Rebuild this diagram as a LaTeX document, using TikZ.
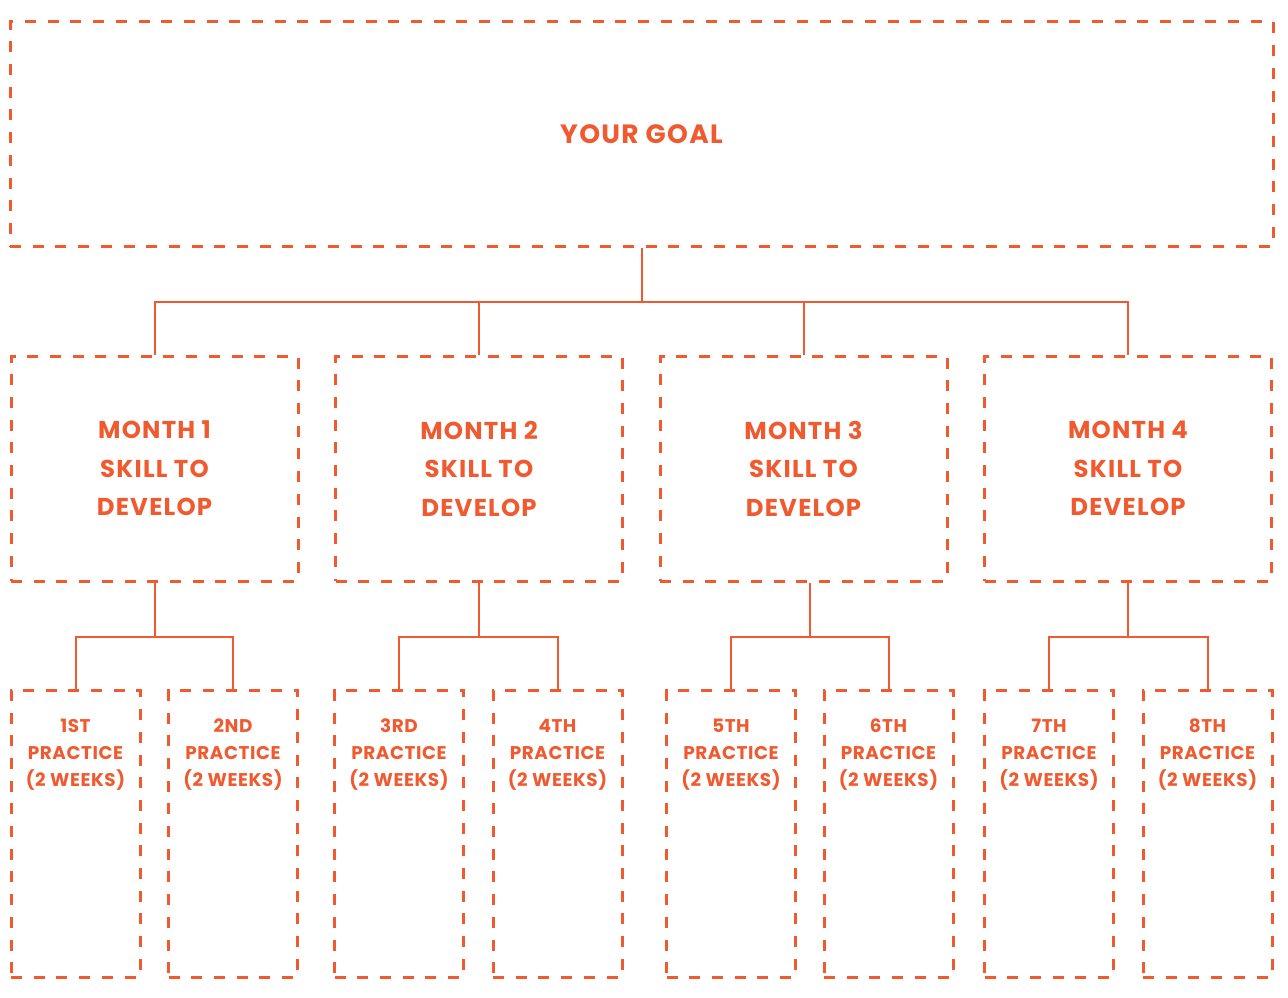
\documentclass[tikz,border=0pt]{standalone}
\usepackage{fontspec}
\newfontfamily\labfont[LetterSpace=5]{Poppins}
\newfontfamily\pracfont[LetterSpace=3]{Poppins}
\definecolor{orng}{HTML}{F05A30}
\tikzset{
  box/.style={draw=orng, line width=3pt, dash pattern=on 11pt off 11.7pt, rectangle, inner sep=0pt, text=orng, align=center},
  goalbox/.style={box, minimum width=1263pt, minimum height=224pt, font={\labfont\bfseries\fontsize{26.5}{30}\selectfont}},
  monthbox/.style={box, minimum width=287pt, minimum height=225pt, font={\labfont\bfseries\fontsize{24.4}{38.5}\selectfont}},
  pracbox/.style={box, minimum width=129pt, minimum height=287pt},
  practxt/.style={text=orng, align=center, inner sep=0pt, font={\pracfont\bfseries\fontsize{18.4}{27}\selectfont}},
  link/.style={draw=orng, line width=2pt},
}
\begin{document}
\begin{tikzpicture}[x=1pt,y=-1pt]
\useasboundingbox (0,0) rectangle (1288,998);
% goal
\node[goalbox] (goal) at (641.5,134) {YOUR GOAL};
% months
\node[monthbox] (m1) at (154.5,468.5) {MONTH 1\\SKILL TO\\DEVELOP};
\node[monthbox] (m2) at (479,468.5) {MONTH 2\\SKILL TO\\DEVELOP};
\node[monthbox] (m3) at (803.5,468.5) {MONTH 3\\SKILL TO\\DEVELOP};
\node[monthbox] (m4) at (1128,468.5) {MONTH 4\\SKILL TO\\DEVELOP};
% practice boxes
\foreach \i/\x in {1/75.5,2/233,3/399,4/557.5,5/731,6/888.5,7/1049,8/1207.5}{
  \node[pracbox] (p\i) at (\x,833.5) {};
}
\node[practxt] (p1t) at (75.5,755) {1ST\\PRACTICE\\(2 WEEKS)};
\node[practxt] (p2t) at (233,755) {2ND\\PRACTICE\\(2 WEEKS)};
\node[practxt] (p3t) at (399,755) {3RD\\PRACTICE\\(2 WEEKS)};
\node[practxt] (p4t) at (557.5,755) {4TH\\PRACTICE\\(2 WEEKS)};
\node[practxt] (p5t) at (731,755) {5TH\\PRACTICE\\(2 WEEKS)};
\node[practxt] (p6t) at (888.5,755) {6TH\\PRACTICE\\(2 WEEKS)};
\node[practxt] (p7t) at (1049,755) {7TH\\PRACTICE\\(2 WEEKS)};
\node[practxt] (p8t) at (1207.5,755) {8TH\\PRACTICE\\(2 WEEKS)};
% top connectors
\coordinate (top) at (641.5,302);
\draw[link] (goal.south) -- (top);
\draw[link] (m1.north) |- (top) -| (m4.north);
\draw[link] (m2.north) -- (m2.north |- top);
\draw[link] (m3.north) -- (m3.north |- top);
% sub connectors
\coordinate (b1) at (154.5,637);
\coordinate (b2) at (479,637);
\coordinate (b3) at (810,637);
\coordinate (b4) at (1128,637);
\draw[link] (m1.south -| b1) -- (b1);
\draw[link] (m2.south -| b2) -- (b2);
\draw[link] (m3.south -| b3) -- (b3);
\draw[link] (m4.south -| b4) -- (b4);
\draw[link] (p1.north) |- (b1) -| (p2.north);
\draw[link] (p3.north) |- (b2) -| (p4.north);
\draw[link] (p5.north) |- (b3) -| (p6.north);
\draw[link] (p7.north) |- (b4) -| (p8.north);
\end{tikzpicture}
\end{document}
